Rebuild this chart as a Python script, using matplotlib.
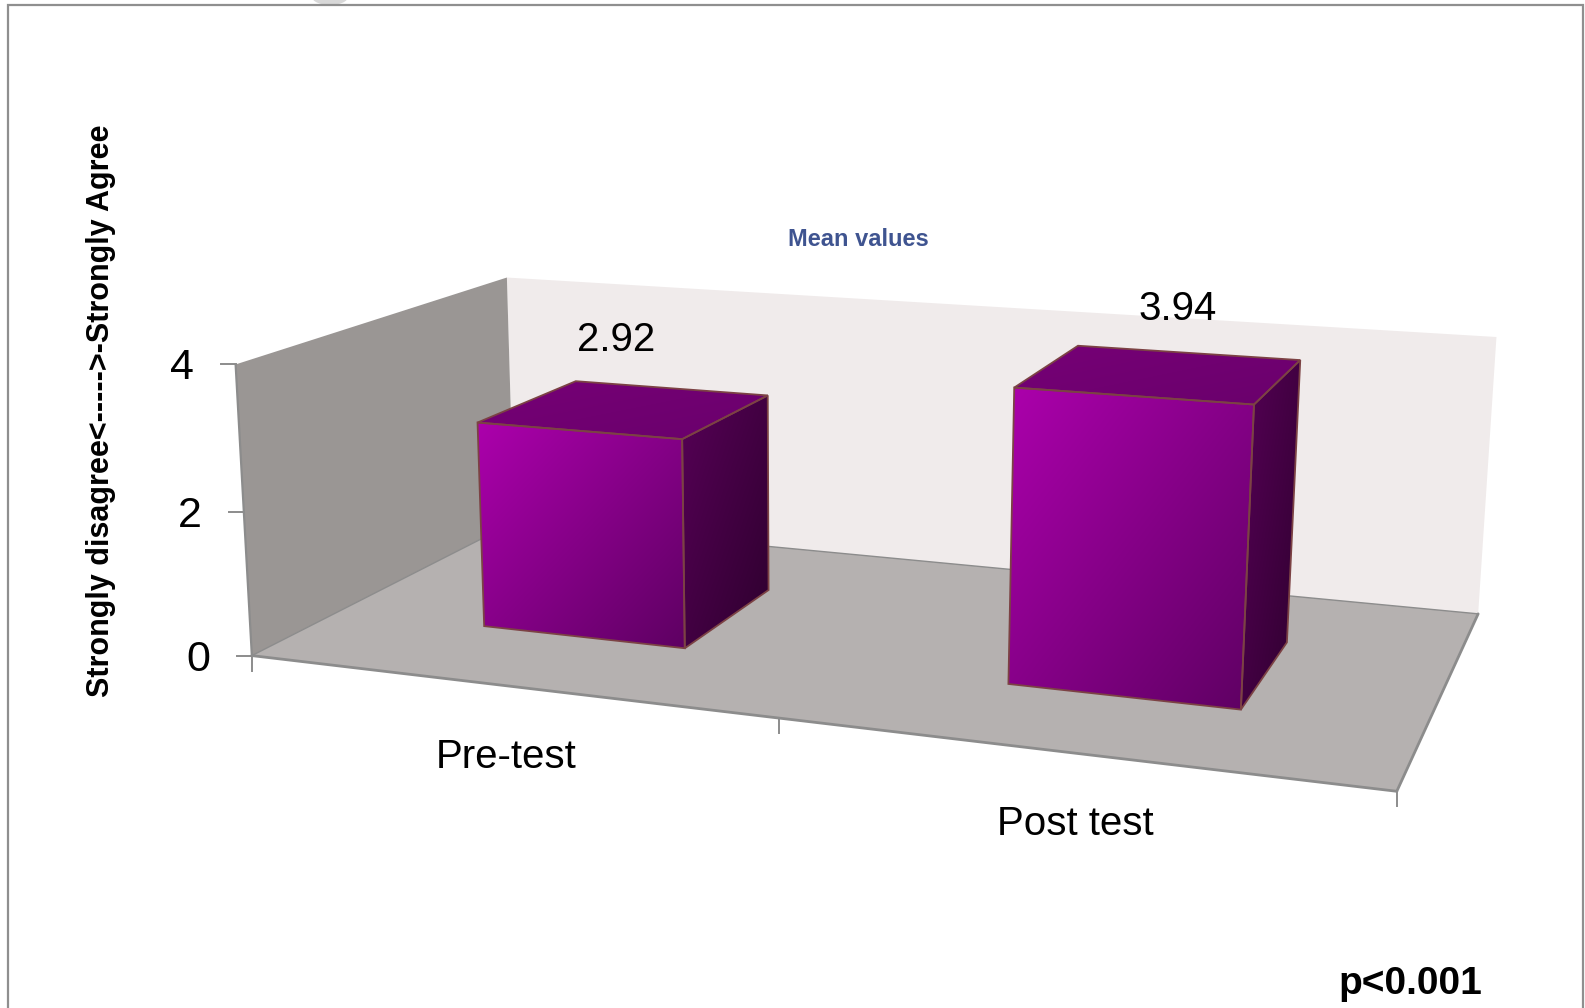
import numpy as np
import matplotlib
matplotlib.use("Agg")
import matplotlib.pyplot as plt
from matplotlib.colors import to_rgb
from matplotlib.patches import Polygon, Ellipse

categories = ["Pre-test", "Post test"]
values = [2.92, 3.94]
value_labels = ["2.92", "3.94"]
y_ticks = [0, 2, 4]
y_label = "Strongly disagree<----->-Strongly Agree"
title = "Mean values"
note = "p<0.001"

W, H = 1585, 1008
FONT = "Liberation Sans"
# Camera calibration: where the chart box corners sit in the picture
CAL_WORLD = [(0,0,0),(0,0,0),(0,0,0),(2,0,0),(2,1,0),(0,1,0),(0,0,4),(0,1,4),(0,1,4),(2,1,4),(1,0,0),(0,0,2)]
CAL_PIXEL = [(253,655),(253,655),(253,655),(1396,791),(1479,612.5),(511.5,522.5),(234.5,363.5),(508,278),(508,278),(1496,337),(780,721.7),(241.7,511.7)]
LABEL_OFFSETS = [(-54, -48), (-10, -44)]


def fit_camera(world, pixel):
    rows = []
    for (x, y, z), (u, v) in zip(world, pixel):
        rows.append([x, y, z, 1, 0, 0, 0, 0, -u*x, -u*y, -u*z, -u])
        rows.append([0, 0, 0, 0, x, y, z, 1, -v*x, -v*y, -v*z, -v])
    return np.linalg.svd(np.array(rows, float))[2][-1].reshape(3, 4)


P = fit_camera(CAL_WORLD, CAL_PIXEL)


def project(x, y, z):
    h = P @ np.array([x, y, z, 1.0])
    return float(h[0]/h[2]), float(h[1]/h[2])


BAR_HALF = 0.2
DEPTH = (0.3, 0.7)

fig = plt.figure(figsize=(W/100, H/100), dpi=100)
ax = fig.add_axes([0, 0, 1, 1])
ax.axis("off")


def gradient(poly, c0, c1, z=3):
    pts = np.array(poly)
    x0, y0 = pts.min(0)
    x1, y1 = pts.max(0)
    X, Y = np.meshgrid(np.linspace(0, 1, 160), np.linspace(0, 1, 160))
    t = ((X+Y)/2)[..., None]
    img = np.array(to_rgb(c0))*(1-t)+np.array(to_rgb(c1))*t
    im = ax.imshow(img, extent=(x0, x1, y1, y0), aspect="auto", interpolation="bilinear", zorder=z)
    im.set_clip_path(Polygon(pts, transform=ax.transData))


def box(x0, x1, y0, y1, v):
    front = [project(x0,y0,v), project(x1,y0,v), project(x1,y0,0), project(x0,y0,0)]
    side = [project(x1,y0,v), project(x1,y1,v), project(x1,y1,0), project(x1,y0,0)]
    top = [project(x0,y0,v), project(x1,y0,v), project(x1,y1,v), project(x0,y1,v)]
    gradient(front, "#AC00AC", "#5E0062")
    gradient(side, "#560056", "#2E002E")
    gradient(top, "#760076", "#6A006C")
    for poly in (front, side, top):
        ax.add_patch(Polygon(poly, closed=True, fill=False, ec="#7C4244", lw=1.3, zorder=4))


back = [project(0,1,4), project(2,1,4), project(2,1,0), project(0,1,0)]
left = [project(0,0,4), project(0,1,4), project(0,1,0), project(0,0,0)]
floor = [project(0,0,0), project(2,0,0), project(2,1,0), project(0,1,0)]
ax.add_patch(Polygon(back, closed=True, fc="#F0EBEB", ec="none", zorder=1))
ax.add_patch(Polygon(left, closed=True, fc="#9A9694", ec="none", zorder=1))
ax.add_patch(Polygon(floor, closed=True, fc="#B5B1B0", ec="none", zorder=2))
GREY = "#8C8C8C"
for a, b, lw in [((0,0,0),(2,0,0),2), ((2,0,0),(2,1,0),2), ((0,0,0),(0,0,4),1.6), ((0,0,0),(0,1,0),1), ((0,1,0),(2,1,0),1)]:
    pa, pb = project(*a), project(*b)
    ax.plot([pa[0], pb[0]], [pa[1], pb[1]], color=GREY, lw=lw, zorder=2.5, solid_capstyle="round")

for t in y_ticks:
    u, v = project(0, 0, t)
    ax.plot([u-15, u], [v, v], color=GREY, lw=1.4, zorder=2)
    ax.text(u-54, v+4, str(t), fontsize=31, family=FONT, ha="center", va="center", color="black")
for t in (0, 1, 2):
    u, v = project(t, 0, 0)
    ax.plot([u, u], [v, v+15], color=GREY, lw=1.4, zorder=2)

for i, (cat, val, lab) in enumerate(zip(categories, values, value_labels)):
    c = i + 0.5
    box(c-BAR_HALF, c+BAR_HALF, DEPTH[0], DEPTH[1], val)
    u, v = project(c, 0, 0)
    ax.text(u, v+71, cat, fontsize=29, family=FONT, ha="center", va="center", color="black")
    tu, tv = project(c, DEPTH[1], val)
    dx, dy = LABEL_OFFSETS[i]
    ax.text(tu+dx, tv+dy, lab, fontsize=29, family=FONT, ha="center", va="center", color="black")

ax.text(101, 411, y_label, rotation=90, fontsize=22, fontweight="bold", family=FONT, ha="center", va="center")
ax.text(858, 239, title, fontsize=17, fontweight="bold", family=FONT, color="#3F5490", ha="center", va="center")
ax.text(1410, 984, note, fontsize=28, fontweight="bold", family=FONT, ha="center", va="center")

ax.add_patch(Ellipse((330, -3), 36, 16, fc="#D8D8D8", ec="none", zorder=0))
ax.plot([8, 8, 1583, 1583], [1008, 4.5, 4.5, 1008], color="#8F8F8F", lw=1.6, solid_joinstyle="miter", zorder=1)

ax.set_xlim(0, W)
ax.set_ylim(H, 0)
fig.savefig("out.png", dpi=100, facecolor="white")
